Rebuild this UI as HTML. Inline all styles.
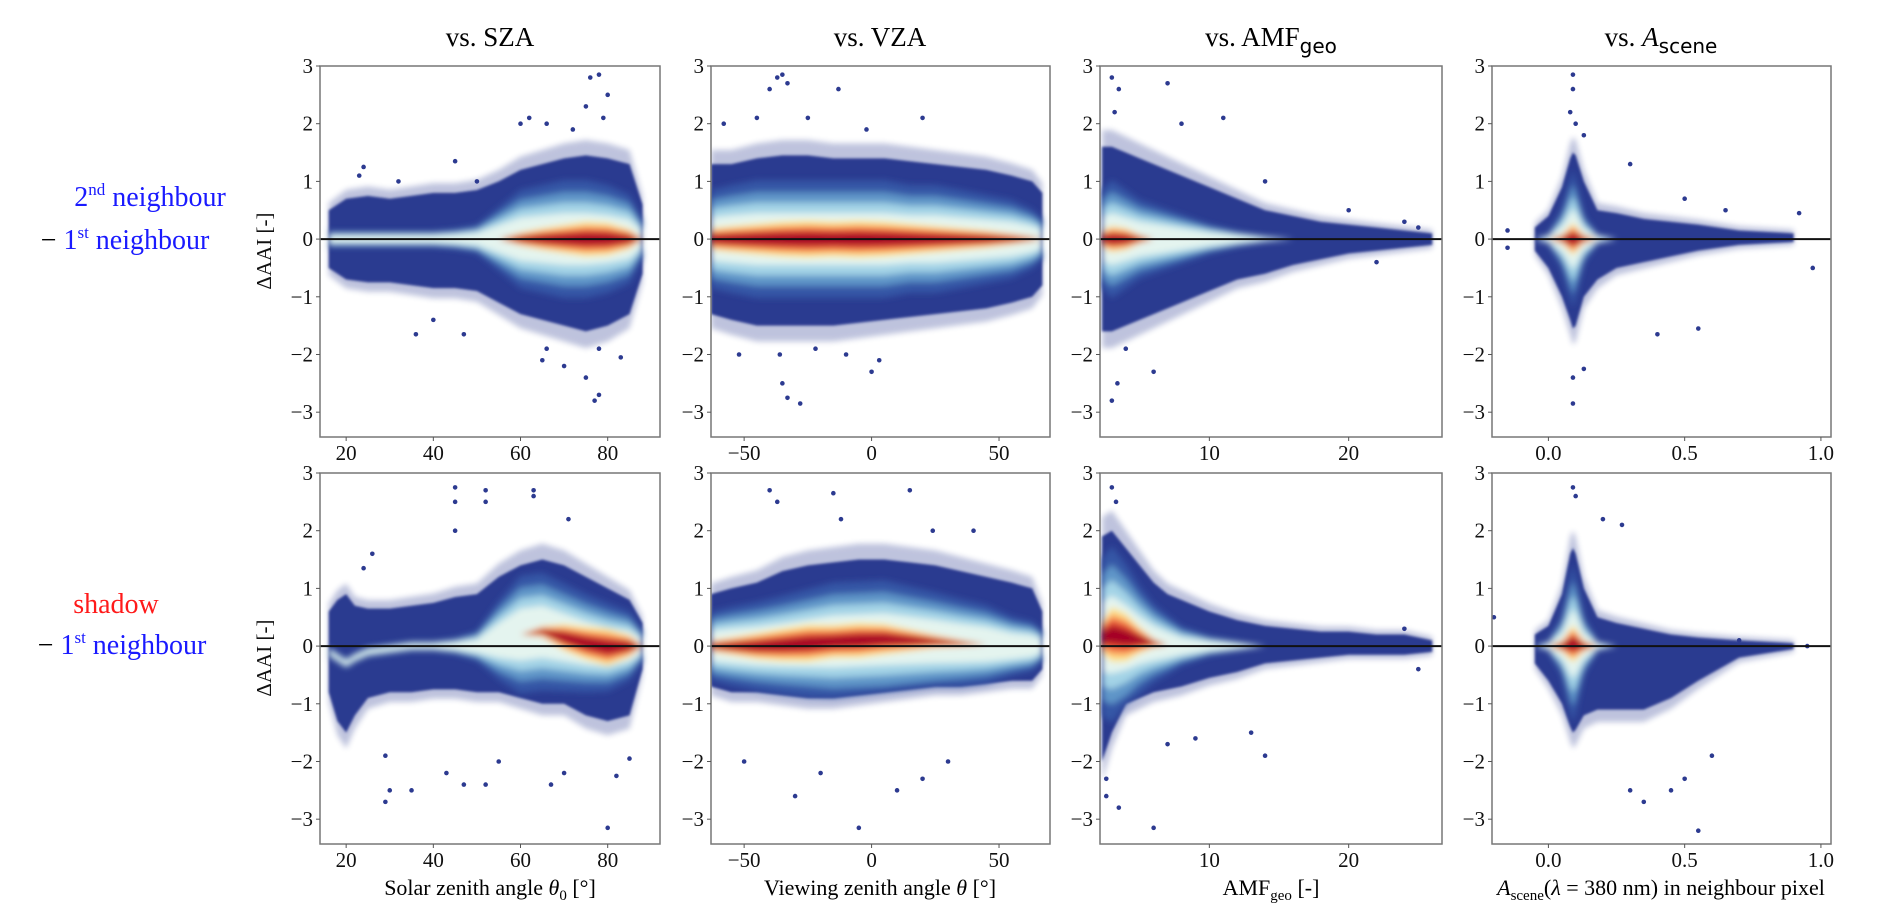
<!DOCTYPE html>
<html><head><meta charset="utf-8"><style>
html,body{margin:0;padding:0;background:#fff;}
svg{display:block;}
</style></head><body>
<svg id="fig" width="1892" height="924" viewBox="0 0 1892 924" xmlns="http://www.w3.org/2000/svg" font-family="'Liberation Serif', serif">
<defs>
<filter id="blurCore" x="-20%" y="-50%" width="140%" height="200%"><feGaussianBlur stdDeviation="3.2"/></filter>
<filter id="blurOuter" x="-5%" y="-10%" width="110%" height="120%"><feGaussianBlur stdDeviation="1.2"/></filter>
<filter id="blurFringe" x="-5%" y="-10%" width="110%" height="120%"><feGaussianBlur stdDeviation="3"/></filter>
</defs>
<g id="plots"></g>
<g font-size="28">
<text x="150" y="206" text-anchor="middle" fill="#1a1aff">2<tspan font-size="17" dy="-11">nd</tspan><tspan dy="11"> neighbour</tspan></text>
<text x="125" y="249" text-anchor="middle"><tspan fill="#000">− </tspan><tspan fill="#1a1aff">1</tspan><tspan fill="#1a1aff" font-size="17" dy="-11">st</tspan><tspan fill="#1a1aff" dy="11"> neighbour</tspan></text>
<text x="116" y="613" text-anchor="middle" fill="#ff1a1a">shadow</text>
<text x="122" y="654" text-anchor="middle"><tspan fill="#000">− </tspan><tspan fill="#1a1aff">1</tspan><tspan fill="#1a1aff" font-size="17" dy="-11">st</tspan><tspan fill="#1a1aff" dy="11"> neighbour</tspan></text>
</g>
<g font-size="27" text-anchor="middle">
<text x="490" y="46">vs. SZA</text>
<text x="880" y="46">vs. VZA</text>
<text x="1271" y="46">vs. AMF<tspan font-family="'DejaVu Sans', sans-serif" font-size="20" dy="7">geo</tspan></text>
<text x="1661" y="46">vs. <tspan font-style="italic">A</tspan><tspan font-family="'DejaVu Sans', sans-serif" font-size="20" dy="7">scene</tspan></text>
</g>
<g font-size="22" text-anchor="middle">
<text x="490" y="895">Solar zenith angle <tspan font-style="italic">θ</tspan><tspan font-size="15" dy="5">0</tspan><tspan dy="-5"> [°]</tspan></text>
<text x="880" y="895">Viewing zenith angle <tspan font-style="italic">θ</tspan> [°]</text>
<text x="1271" y="895">AMF<tspan font-size="15" dy="5">geo</tspan><tspan dy="-5"> [-]</tspan></text>
<text x="1661" y="895"><tspan font-style="italic">A</tspan><tspan font-size="15" dy="5">scene</tspan><tspan dy="-5">(</tspan><tspan font-style="italic">λ</tspan> = 380 nm) in neighbour pixel</text>
</g>
</svg>
<script>
// ---------- DATA (row 1: 2nd neighbour − 1st neighbour) ----------
const szaTopX = [16,20,25,30,35,40,45,50,55,60,65,70,75,80,85,88];
const szaTopUp = [0.5,0.7,0.75,0.7,0.75,0.8,0.8,0.85,1.0,1.2,1.3,1.4,1.45,1.4,1.3,0.6];
const szaTopLo = [-0.5,-0.7,-0.75,-0.75,-0.8,-0.85,-0.85,-0.9,-1.1,-1.3,-1.4,-1.5,-1.6,-1.5,-1.3,-0.6];
const szaTopMid = [0,0,0,0,0,0,0,0,0,0,0,0,0,0,0,0];
const szaTopGlow = [0.08,0.08,0.08,0.08,0.08,0.08,0.1,0.14,0.32,0.5,0.55,0.6,0.6,0.55,0.45,0.18];
const szaTopCore = [0,0,0,0,0,0,0,0,0,0.06,0.1,0.13,0.16,0.15,0.09,0];
const szaTopOut = [[45,1.35],[24,1.25],[23,1.1],[60,2.0],[62,2.1],[66,2.0],[72,1.9],[76,2.8],[78,2.85],[80,2.5],[79,2.1],[75,2.3],[50,1.0],[47,-1.65],[36,-1.65],[65,-2.1],[70,-2.2],[75,-2.4],[77,-2.8],[78,-2.7],[83,-2.05],[78,-1.9],[66,-1.9],[32,1.0],[40,-1.4]];

const vzaTopX = [-63,-55,-45,-35,-25,-15,-5,5,15,25,35,45,55,63,67];
const vzaTopUp = [1.3,1.3,1.4,1.45,1.45,1.4,1.4,1.4,1.35,1.3,1.25,1.2,1.1,1.0,0.8];
const vzaTopLo = [-1.3,-1.4,-1.5,-1.5,-1.5,-1.5,-1.45,-1.4,-1.35,-1.3,-1.25,-1.2,-1.1,-1.0,-0.8];
const vzaTopMid = [0,0,0,0,0,0,0,0,0,0,0,0,0,0,0];
const vzaTopGlow = [0.5,0.55,0.6,0.6,0.6,0.6,0.6,0.6,0.55,0.55,0.5,0.45,0.4,0.3,0.2];
const vzaTopCore = [0.1,0.12,0.14,0.16,0.17,0.16,0.17,0.16,0.14,0.12,0.1,0.08,0.05,0.02,0];
const vzaTopOut = [[-40,2.6],[-37,2.8],[-35,2.85],[-33,2.7],[-13,2.6],[-45,2.1],[-25,2.1],[20,2.1],[-58,2.0],[-2,1.9],[-52,-2.0],[-36,-2.0],[-35,-2.5],[-33,-2.75],[-28,-2.85],[-22,-1.9],[0,-2.3],[3,-2.1],[-10,-2.0]];

const amfTopX = [2.3,3,4,5,6,8,10,12,14,16,18,20,22,24,26];
const amfTopUp = [1.6,1.6,1.5,1.4,1.3,1.1,0.9,0.7,0.5,0.4,0.3,0.25,0.2,0.15,0.1];
const amfTopLo = [-1.6,-1.6,-1.5,-1.4,-1.3,-1.1,-0.9,-0.7,-0.6,-0.45,-0.35,-0.25,-0.2,-0.15,-0.1];
const amfTopMid = [0,0,0,0,0,0,0,0,0,0,0,0,0,0,0];
const amfTopGlow = [0.5,0.6,0.5,0.4,0.35,0.25,0.15,0.08,0.03,0,0,0,0,0,0];
const amfTopCore = [0.08,0.12,0.1,0.04,0,0,0,0,0,0,0,0,0,0,0];
const amfTopOut = [[3,2.8],[3.5,2.6],[3.2,2.2],[7,2.7],[8,2.0],[11,2.1],[14,1.0],[20,0.5],[24,0.3],[3,-2.8],[3.4,-2.5],[6,-2.3],[4,-1.9],[22,-0.4],[25,0.2]];

const ascTopX = [-0.05,0,0.05,0.08,0.09,0.1,0.13,0.18,0.25,0.35,0.45,0.55,0.7,0.9];
const ascTopUp = [0.2,0.4,0.9,1.4,1.5,1.45,1.0,0.5,0.45,0.35,0.3,0.25,0.15,0.1];
const ascTopLo = [-0.2,-0.5,-1.0,-1.4,-1.55,-1.5,-1.0,-0.7,-0.5,-0.4,-0.3,-0.2,-0.1,-0.05];
const ascTopMid = [0,0,0,0,0,0,0,0,0,0,0,0,0,0];
const ascTopGlow = [0,0.05,0.3,0.6,0.7,0.6,0.25,0.05,0,0,0,0,0,0];
const ascTopCore = [0,0,0.04,0.12,0.15,0.12,0.04,0,0,0,0,0,0,0];
const ascTopOut = [[0.09,2.85],[0.09,2.6],[0.08,2.2],[0.1,2.0],[0.13,1.8],[0.09,-2.4],[0.09,-2.85],[0.13,-2.25],[0.3,1.3],[0.5,0.7],[0.65,0.5],[0.92,0.45],[0.97,-0.5],[0.55,-1.55],[0.4,-1.65],[-0.15,0.15],[-0.15,-0.15]];

// ---------- DATA (row 2: shadow − 1st neighbour) ----------
const szaBotX = [16,18,20,22,25,30,35,40,45,50,55,60,65,70,75,80,85,88];
const szaBotUp = [0.6,0.8,0.9,0.7,0.65,0.65,0.7,0.75,0.85,0.9,1.2,1.4,1.5,1.4,1.2,1.0,0.8,0.4];
const szaBotLo = [-0.8,-1.3,-1.5,-1.2,-0.9,-0.8,-0.8,-0.75,-0.75,-0.8,-0.8,-0.9,-1.0,-1.0,-1.2,-1.3,-1.2,-0.4];
const szaBotMid = [-0.1,-0.2,-0.3,-0.2,-0.1,-0.05,0,0,0,0,0.1,0.2,0.25,0.15,0.05,-0.02,0,0];
const szaBotGlow = [0.05,0.05,0.05,0.05,0.05,0.05,0.05,0.05,0.08,0.15,0.4,0.6,0.6,0.55,0.5,0.45,0.35,0.15];
const szaBotCore = [0,0,0,0,0,0,0,0,0,0,0,0,0.05,0.12,0.15,0.17,0.1,0];
const szaBotOut = [[45,2.75],[45,2.5],[45,2.0],[52,2.7],[52,2.5],[63,2.7],[63,2.6],[71,2.2],[26,1.6],[24,1.35],[29,-1.9],[30,-2.5],[29,-2.7],[35,-2.5],[43,-2.2],[47,-2.4],[52,-2.4],[67,-2.4],[70,-2.2],[80,-3.15],[82,-2.25],[85,-1.95],[55,-2.0]];

const vzaBotX = [-63,-55,-45,-35,-25,-15,-5,5,15,25,35,45,55,63,67];
const vzaBotUp = [0.9,1.0,1.1,1.3,1.4,1.45,1.5,1.5,1.45,1.4,1.3,1.2,1.1,1.0,0.6];
const vzaBotLo = [-0.7,-0.8,-0.8,-0.85,-0.9,-0.9,-0.85,-0.8,-0.75,-0.7,-0.7,-0.65,-0.6,-0.6,-0.4];
const vzaBotMid = [0,0,0,0.02,0.05,0.08,0.1,0.12,0.1,0.08,0.05,0.03,0,0,0];
const vzaBotGlow = [0.35,0.4,0.45,0.5,0.55,0.6,0.6,0.6,0.55,0.5,0.45,0.4,0.3,0.25,0.15];
const vzaBotCore = [0.05,0.08,0.12,0.15,0.17,0.15,0.16,0.14,0.1,0.06,0.03,0,0,0,0];
const vzaBotOut = [[-40,2.7],[-37,2.5],[-15,2.65],[-12,2.2],[15,2.7],[24,2.0],[40,2.0],[-50,-2.0],[-30,-2.6],[-5,-3.15],[10,-2.5],[20,-2.3],[-20,-2.2],[30,-2.0]];

const amfBotX = [2.3,3,4,5,6,7,8,10,12,14,16,18,20,22,24,26];
const amfBotUp = [1.9,2.0,1.7,1.4,1.1,0.9,0.8,0.6,0.45,0.35,0.3,0.25,0.25,0.2,0.2,0.1];
const amfBotLo = [-2.0,-1.5,-1.0,-0.9,-0.8,-0.75,-0.7,-0.55,-0.45,-0.3,-0.25,-0.2,-0.15,-0.15,-0.15,-0.1];
const amfBotMid = [0.15,0.2,0.15,0.1,0.05,0.02,0,0,0,0,0,0,0,0,0,0];
const amfBotGlow = [0.8,0.9,0.75,0.55,0.4,0.3,0.2,0.1,0.05,0,0,0,0,0,0,0];
const amfBotCore = [0.15,0.25,0.22,0.12,0.04,0,0,0,0,0,0,0,0,0,0,0];
const amfBotOut = [[3,2.75],[3.3,2.5],[2.6,-2.3],[3.5,-2.8],[6,-3.15],[7,-1.7],[9,-1.6],[13,-1.5],[14,-1.9],[24,0.3],[25,-0.4],[2.6,-2.6]];

const ascBotX = [-0.05,0,0.05,0.08,0.09,0.1,0.13,0.18,0.25,0.35,0.45,0.55,0.7,0.9];
const ascBotUp = [0.2,0.35,0.9,1.6,1.7,1.6,1.0,0.5,0.4,0.3,0.2,0.15,0.1,0.05];
const ascBotLo = [-0.3,-0.6,-1.0,-1.4,-1.5,-1.45,-1.2,-1.1,-1.1,-1.1,-0.9,-0.6,-0.2,-0.05];
const ascBotMid = [0,0,0,0.03,0.04,0.03,0,0,0,0,0,0,0,0];
const ascBotGlow = [0,0.05,0.3,0.7,0.8,0.7,0.3,0.05,0,0,0,0,0,0];
const ascBotCore = [0,0,0.05,0.14,0.17,0.14,0.05,0,0,0,0,0,0,0];
const ascBotOut = [[0.09,2.75],[0.1,2.6],[0.2,2.2],[0.27,2.1],[0.3,-2.5],[0.35,-2.7],[0.45,-2.5],[0.5,-2.3],[0.55,-3.2],[0.6,-1.9],[0.7,0.1],[0.95,0.0],[-0.2,0.5]];

// ---------- axis tick labels ----------
const yTicks = [-3,-2,-1,0,1,2,3];
const xTicksSza = [20,40,60,80];
const xTicksVza = [-50,0,50];
const xTicksAmf = [10,20];
const xTicksAsc = [0,0.5,1.0];
const xTickLabelsAsc = ["0.0","0.5","1.0"];

// ---------- layout ----------
const NS = "http://www.w3.org/2000/svg";
const colPx = [[320,660],[711,1050],[1100,1442],[1492,1831]];
const rowPx = [[66,437],[473,844]];
const xDom = [[14,92],[-63,70],[2.15,26.7],[-0.207,1.037]];
const yDom = [-3.43,3.0];
const xTickSets = [xTicksSza,xTicksVza,xTicksAmf,xTicksAsc];
const panelNames = ["sza","vza","amf","ascene"];
const rowNames = ["neighbour2","shadow"];
const series = [
 [[szaTopX,szaTopUp,szaTopLo,szaTopMid,szaTopGlow,szaTopCore,szaTopOut],
  [vzaTopX,vzaTopUp,vzaTopLo,vzaTopMid,vzaTopGlow,vzaTopCore,vzaTopOut],
  [amfTopX,amfTopUp,amfTopLo,amfTopMid,amfTopGlow,amfTopCore,amfTopOut],
  [ascTopX,ascTopUp,ascTopLo,ascTopMid,ascTopGlow,ascTopCore,ascTopOut]],
 [[szaBotX,szaBotUp,szaBotLo,szaBotMid,szaBotGlow,szaBotCore,szaBotOut],
  [vzaBotX,vzaBotUp,vzaBotLo,vzaBotMid,vzaBotGlow,vzaBotCore,vzaBotOut],
  [amfBotX,amfBotUp,amfBotLo,amfBotMid,amfBotGlow,amfBotCore,amfBotOut],
  [ascBotX,ascBotUp,ascBotLo,ascBotMid,ascBotGlow,ascBotCore,ascBotOut]]
];

function mk(tag, attrs, parent){
  const e = document.createElementNS(NS, tag);
  for (const k in attrs) e.setAttribute(k, attrs[k]);
  parent.appendChild(e);
  return e;
}
function fmt(v){ return v < 0 ? "−" + Math.abs(v) : String(v); }

const root = document.getElementById("plots");
for (let r = 0; r < 2; r++) {
  for (let c = 0; c < 4; c++) {
    const [L,R] = colPx[c], [T,B] = rowPx[r];
    const sx = v => L + (v - xDom[c][0]) / (xDom[c][1] - xDom[c][0]) * (R - L);
    const sy = v => B - (v - yDom[0]) / (yDom[1] - yDom[0]) * (B - T);
    const [xs, up, lo, mid, glow, core, out] = series[r][c];
    const g = mk("g", {}, root);
    
    
    const cid = "clip" + r + c;
    const cp = mk("clipPath", {id: cid}, g);
    mk("rect", {x: L, y: T, width: R - L, height: B - T}, cp);
    const plot = mk("g", {"clip-path": "url(#" + cid + ")"}, g);

    // sparse fringe around envelope
    let fp = xs.map((x,i) => sx(x) + "," + sy(up[i] * 1.15 + 0.05));
    fp = fp.concat(xs.map((x,i) => sx(x) + "," + sy(lo[i] * 1.15 - 0.05)).reverse());
    const fringe = mk("polygon", {points: fp.join(" "), fill: "#2c3a90", opacity: 0.3, filter: "url(#blurFringe)"}, plot);
    
    

    // outer envelope
    let pts = xs.map((x,i) => sx(x) + "," + sy(up[i]));
    pts = pts.concat(xs.map((x,i) => sx(x) + "," + sy(lo[i])).reverse());
    const env = mk("polygon", {points: pts.join(" "), fill: "#2c3a90", filter: "url(#blurOuter)"}, plot);
    
    

    // density layers
    const dens = mk("g", {filter: "url(#blurCore)"}, plot);
    
    
    const layers = [
      [glow, 1.7, "#3657a6"], [glow, 1.35, "#5f95c8"], [glow, 1.05, "#a3d3e6"],
      [glow, 0.75, "#e4f4ef"], [core, 1.9, "#fde38c"], [core, 1.45, "#fba35e"],
      [core, 1.05, "#e34a33"], [core, 0.6, "#a50026"]
    ];
    layers.forEach(([arr, k, col]) => {
      let p = xs.map((x,i) => sx(x) + "," + sy(Math.min(up[i], mid[i] + arr[i]*k)));
      p = p.concat(xs.map((x,i) => sx(x) + "," + sy(Math.max(lo[i], mid[i] - arr[i]*k))).reverse());
      const poly = mk("polygon", {points: p.join(" "), fill: col}, dens);
      
      
    });

    // outlier points
    out.forEach(([x,y]) => {
      const d = mk("circle", {cx: sx(x), cy: sy(y), r: 2.3, fill: "#2c3a90"}, plot);
      
      
    });

    // zero line
    const zl = mk("line", {x1: L, x2: R, y1: sy(0), y2: sy(0), stroke: "#111", "stroke-width": 2}, g);
    
    

    // frame
    const fr = mk("rect", {x: L, y: T, width: R - L, height: B - T, fill: "none", stroke: "#777", "stroke-width": 1.5}, g);
    
    

    // y ticks
    yTicks.forEach(v => {
      const y = sy(v);
      mk("line", {x1: L - 4, x2: L, y1: y, y2: y, stroke: "#555", "stroke-width": 1}, g);
      const t = mk("text", {x: L - 7, y: y + 7, "text-anchor": "end", "font-size": 21, fill: "#111"}, g);
      t.textContent = fmt(v);
      
      
    });
    // x ticks
    xTickSets[c].forEach((v, i) => {
      const x = sx(v);
      mk("line", {x1: x, x2: x, y1: B, y2: B + 4, stroke: "#555", "stroke-width": 1}, g);
      const t = mk("text", {x: x, y: B + 23, "text-anchor": "middle", "font-size": 21, fill: "#111"}, g);
      t.textContent = c === 3 ? xTickLabelsAsc[i] : fmt(v);
      
      
    });
    // y axis title
    if (c === 0) {
      const yc = sy(0);
      const t = mk("text", {x: 0, y: 0, transform: "translate(271," + (yc + 12) + ") rotate(-90)", "text-anchor": "middle", "font-size": 21, fill: "#111"}, g);
      t.textContent = "ΔAAI [-]";
      
      
    }
  }
}
</script>
</body></html>
